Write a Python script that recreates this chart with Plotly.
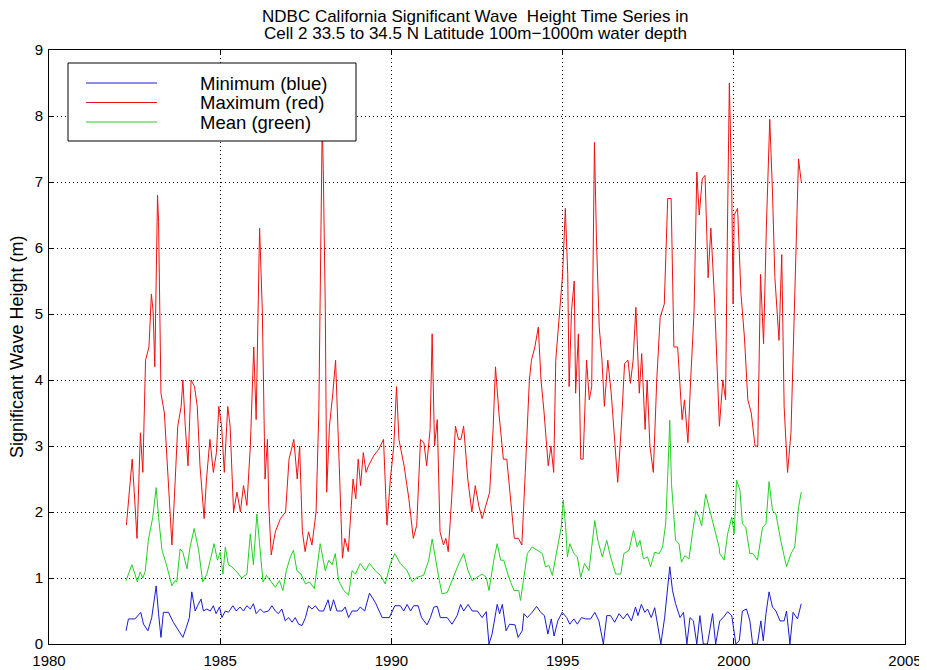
import plotly.graph_objects as go

# ---------------- data ----------------
max_year = [1982.26,1982.43,1982.49,1982.57,1982.67,1982.74,1982.82,1982.92,1982.99,1983.04,
            1983.09,1983.17,1983.20,1983.27,1983.37,1983.51,1983.59,1983.66,1983.76,1983.86,
            1983.91,1983.98,1984.06,1984.15,1984.25,1984.33,1984.41,1984.53,1984.60,1984.70,
            1984.80,1984.89,1984.96,1985.04,1985.12,1985.22,1985.29,1985.39,1985.49,1985.59,
            1985.68,1985.78,1985.88,1985.98,1986.05,1986.15,1986.23,1986.31,1986.38,
            1986.42,1986.49,1986.61,1986.76,1986.91,1987.01,1987.15,1987.25,1987.32,1987.40,
            1987.48,1987.58,1987.68,1987.80,1987.88,1987.93,1987.98,1988.01,1988.07,1988.11,
            1988.19,1988.29,1988.37,1988.44,1988.51,1988.57,1988.64,1988.74,1988.83,1988.88,
            1988.96,1989.03,1989.10,1989.18,1989.26,1989.33,1989.48,1989.63,1989.77,1989.87,
            1989.97,1990.07,1990.15,1990.22,1990.37,1990.51,1990.64,1990.74,
            1990.85,1990.95,1991.03,1991.13,1991.19,1991.26,1991.34,1991.42,1991.52,1991.59,
            1991.66,1991.76,1991.87,1991.96,1992.03,1992.11,1992.23,1992.35,1992.45,1992.55,
            1992.65,1992.75,1992.87,1992.97,1993.04,1993.14,1993.27,1993.37,1993.46,1993.59,
            1993.71,1993.81,1993.91,1994.03,1994.09,1994.19,1994.29,1994.37,1994.46,1994.58,
            1994.66,1994.74,1994.80,1994.90,1995.00,1995.08,1995.15,1995.19,1995.26,1995.34,
            1995.38,1995.46,1995.53,1995.60,1995.70,1995.78,1995.85,1995.93,1995.99,1996.07,
            1996.15,1996.22,1996.32,1996.42,1996.52,1996.61,1996.71,1996.81,1996.91,1996.98,
            1997.06,1997.14,1997.24,1997.31,1997.41,1997.47,1997.55,1997.65,1997.75,1997.85,
            1997.97,1998.07,1998.17,1998.25,1998.36,1998.49,1998.56,1998.66,1998.74,1998.84,
            1998.92,1998.99,1999.08,1999.16,1999.25,1999.33,1999.43,1999.51,1999.58,1999.68,
            1999.76,1999.81,1999.87,1999.94,1999.98,
            2000.01,2000.11,2000.21,2000.31,2000.41,2000.51,2000.62,2000.70,2000.78,2000.87,
            2000.95,2001.05,2001.13,2001.20,2001.32,2001.40,2001.47,2001.57,2001.67,2001.77,
            2001.89,2001.97]
max_height = [1.8,2.8,2.3,1.6,3.2,2.6,4.3,4.5,5.3,5.05,
              4.2,6.8,6.4,3.8,3.5,2.2,1.5,2.2,3.3,3.6,
              4.0,3.3,2.7,4.0,3.9,3.6,2.7,1.9,2.5,3.1,
              2.6,2.9,3.6,3.3,2.6,3.6,3.3,2.0,2.3,2.0,
              2.4,2.1,3.0,4.5,3.4,6.3,5.05,2.5,3.1,
              2.1,1.35,1.7,1.9,2.0,2.8,3.1,2.5,3.0,1.7,
              1.4,1.7,1.5,2.0,3.5,6.1,7.9,7.2,5.05,2.3,
              3.3,3.8,4.3,3.25,2.0,1.3,1.6,1.4,2.1,2.5,
              2.2,2.8,2.4,2.9,2.6,2.7,2.85,2.95,3.1,1.8,
              2.5,3.0,3.9,3.1,2.7,2.2,1.6,1.8,
              3.1,3.05,2.7,3.25,4.7,3.0,3.4,1.7,1.5,1.6,
              1.4,2.2,3.3,3.1,3.1,3.3,2.5,2.0,2.4,2.1,
              1.9,2.1,2.3,3.25,4.2,3.5,2.8,2.8,2.3,1.6,
              1.6,1.5,2.6,4.0,4.3,4.5,4.8,4.0,3.5,2.7,
              3.0,2.6,4.3,5.0,5.6,6.6,5.6,3.9,5.05,5.5,
              3.8,4.7,2.8,2.8,4.3,3.7,3.9,7.6,6.1,4.8,
              4.3,3.6,4.3,3.8,3.0,2.45,3.25,4.25,4.3,3.95,
              4.3,5.1,3.8,4.4,3.25,4.0,3.0,2.6,4.0,4.95,
              5.15,6.75,6.75,4.5,4.5,3.4,3.7,3.05,4.0,5.05,
              7.15,6.5,7.05,7.1,5.55,6.3,5.3,4.3,3.3,4.0,
              3.7,6.1,8.5,6.85,5.15,
              6.5,6.6,5.3,4.65,3.7,3.5,3.0,3.0,5.6,4.55,
              6.3,7.95,6.85,5.55,4.6,5.9,3.6,2.6,3.2,5.05,
              7.35,7.0]

mean_year = [1982.25,1982.42,1982.51,1982.58,1982.66,1982.74,1982.81,1982.90,1983.03,1983.13,
             1983.20,1983.30,1983.42,1983.52,1983.59,1983.68,1983.73,1983.83,1983.91,1984.03,
             1984.12,1984.24,1984.37,1984.49,1984.61,1984.71,1984.82,1984.92,1985.00,1985.08,
             1985.15,1985.24,1985.34,1985.49,1985.63,1985.78,1985.88,1985.97,1986.07,1986.15,
             1986.25,1986.35,1986.46,1986.61,1986.73,1986.83,1986.93,1987.05,1987.14,1987.24,
             1987.36,1987.49,1987.61,1987.75,
             1987.92,1988.07,1988.17,1988.27,1988.36,1988.46,1988.61,1988.75,1988.85,1988.95,
             1989.09,1989.24,1989.36,1989.53,1989.68,1989.82,1989.97,1990.10,1990.26,1990.46,
             1990.61,1990.75,1990.94,1991.09,1991.19,1991.29,1991.40,1991.48,1991.63,1991.77,
             1991.87,1991.97,1992.11,1992.24,1992.36,1992.51,1992.65,1992.77,1992.85,1992.99,
             1993.09,1993.19,1993.28,1993.43,1993.58,1993.72,1993.77,
             1993.87,1993.97,1994.11,1994.26,1994.41,1994.50,1994.60,1994.70,1994.80,1994.89,
             1994.96,1995.02,1995.09,1995.14,1995.21,1995.33,1995.43,1995.53,1995.64,1995.77,
             1995.87,1995.94,1996.03,1996.16,1996.29,1996.40,1996.55,1996.70,1996.79,1996.94,
             1997.07,1997.18,1997.26,1997.36,1997.48,1997.57,1997.69,1997.82,1997.92,1998.01,
             1998.08,1998.13,1998.18,1998.24,1998.30,1998.40,1998.47,1998.57,1998.69,1998.79,
             1998.89,1998.99,1999.06,1999.18,1999.28,1999.42,1999.57,
             1999.59,1999.72,1999.82,1999.94,2000.01,2000.08,2000.18,2000.25,2000.35,2000.47,
             2000.56,2000.69,2000.84,2000.94,2001.03,2001.13,2001.23,2001.37,2001.54,2001.67,
             2001.78,2001.89,2001.97]
mean_height = [0.96,1.2,1.06,0.94,1.09,1.0,1.1,1.57,1.92,2.37,
               1.92,1.42,1.22,1.0,0.88,0.96,0.94,1.44,1.39,1.14,
               1.47,1.75,1.42,0.94,1.06,1.27,1.52,1.27,1.39,1.06,
               1.47,1.2,1.17,1.09,1.0,1.06,1.67,1.2,1.97,1.52,
               0.94,1.04,0.96,0.86,0.96,0.81,1.11,1.32,1.42,1.11,
               1.06,0.91,0.94,0.84,
               1.52,1.11,1.27,1.2,1.37,0.96,0.81,0.74,1.11,1.06,
               1.22,1.11,1.22,1.11,1.04,0.91,1.22,1.37,1.22,1.11,
               0.94,1.01,1.04,1.27,1.59,1.27,0.96,0.76,0.78,0.96,
               1.09,1.22,1.37,1.11,0.96,1.01,1.06,1.01,0.81,1.27,
               1.52,1.27,1.27,1.01,0.81,0.81,0.66,
               1.01,1.37,1.47,1.42,1.37,1.17,1.19,1.04,1.32,1.52,
               1.77,2.18,1.77,1.32,1.52,1.37,1.32,1.01,1.22,1.11,
               1.52,1.87,1.57,1.32,1.57,1.32,1.06,1.06,1.37,1.42,
               1.72,1.47,1.57,1.29,1.32,1.17,1.39,1.37,1.47,1.82,
               2.68,3.39,2.43,1.92,1.57,1.52,1.24,1.34,1.29,1.67,
               2.02,1.92,1.79,2.27,2.07,1.77,1.47,
               1.37,1.27,1.67,1.92,1.67,2.48,2.33,1.82,1.77,1.37,
               1.37,1.27,1.77,1.82,2.46,2.02,1.97,1.57,1.17,1.37,
               1.47,2.07,2.3]

min_year = [1982.25,1982.32,1982.51,1982.61,1982.68,1982.76,1982.89,1983.00,1983.13,1983.20,
            1983.27,1983.34,1983.49,1983.63,1983.78,1983.91,1984.01,1984.10,1984.17,1984.27,
            1984.34,1984.44,1984.51,1984.61,1984.71,1984.80,1984.88,1984.98,1985.05,1985.15,
            1985.24,1985.37,1985.47,1985.58,1985.68,1985.78,1985.88,1985.97,1986.05,1986.17,
            1986.27,1986.41,1986.51,1986.61,1986.70,1986.80,1986.90,1987.00,1987.10,1987.19,
            1987.29,1987.39,1987.49,1987.58,1987.68,1987.78,
            1987.89,1988.02,1988.15,1988.22,1988.31,1988.41,1988.56,1988.65,1988.75,1988.85,
            1989.00,1989.09,1989.22,1989.36,1989.53,1989.73,1989.94,1990.10,1990.26,1990.36,
            1990.46,1990.56,1990.65,1990.78,1990.88,1991.04,1991.14,1991.24,1991.34,1991.43,
            1991.63,1991.77,1991.92,1992.02,1992.11,1992.24,1992.36,1992.51,1992.65,1992.77,
            1992.85,1992.94,1993.09,1993.16,1993.24,1993.35,1993.45,1993.61,1993.70,1993.82,
            1993.87,1993.97,1994.11,1994.24,1994.36,1994.47,1994.57,1994.67,1994.75,1994.86,
            1994.99,1995.12,1995.21,1995.33,1995.43,1995.55,1995.67,1995.82,1995.94,1996.06,
            1996.19,1996.29,1996.40,1996.52,1996.65,1996.77,1996.89,1997.01,1997.13,1997.20,
            1997.30,1997.40,1997.48,1997.59,1997.69,1997.77,1997.87,1997.98,1998.06,1998.13,
            1998.21,1998.30,1998.43,1998.53,1998.63,1998.72,1998.82,1998.92,1999.01,1999.11,
            1999.23,1999.38,1999.47,
            1999.59,1999.69,1999.82,1999.94,2000.06,2000.16,2000.25,2000.37,2000.47,2000.55,
            2000.69,2000.79,2000.86,2000.94,2001.03,2001.13,2001.23,2001.35,2001.47,2001.54,
            2001.64,2001.73,2001.86,2001.97]
min_height = [0.2,0.38,0.38,0.43,0.48,0.3,0.2,0.4,0.88,0.46,
              0.1,0.48,0.48,0.33,0.2,0.1,0.25,0.4,0.79,0.5,
              0.58,0.68,0.5,0.53,0.5,0.58,0.46,0.56,0.4,0.5,
              0.48,0.58,0.5,0.56,0.5,0.58,0.53,0.61,0.46,0.53,
              0.48,0.5,0.58,0.5,0.46,0.53,0.35,0.4,0.33,0.4,
              0.3,0.28,0.4,0.58,0.53,0.58,
              0.5,0.5,0.67,0.5,0.67,0.5,0.5,0.56,0.4,0.5,
              0.5,0.56,0.5,0.77,0.63,0.4,0.4,0.58,0.58,0.5,
              0.6,0.5,0.58,0.58,0.4,0.29,0.4,0.56,0.57,0.4,
              0.4,0.3,0.43,0.6,0.5,0.6,0.5,0.5,0.4,0.49,
              0.0,0.15,0.6,0.46,0.6,0.2,0.3,0.29,0.1,0.2,
              0.46,0.4,0.48,0.57,0.48,0.43,0.15,0.38,0.12,0.35,
              0.48,0.4,0.3,0.38,0.3,0.4,0.38,0.38,0.48,0.35,
              0.0,0.43,0.43,0.33,0.46,0.38,0.46,0.35,0.56,0.43,
              0.6,0.48,0.53,0.4,0.55,0.3,0.0,0.4,0.85,1.17,
              0.81,0.61,0.4,0.48,0.0,0.4,0.35,0.0,0.43,0.0,
              0.0,0.46,0.0,
              0.35,0.4,0.49,0.43,0.0,0.05,0.5,0.53,0.35,0.0,
              0.0,0.35,0.05,0.46,0.79,0.56,0.5,0.35,0.35,0.5,
              0.0,0.48,0.38,0.61]

x_ticks = [1980, 1985, 1990, 1995, 2000, 2005]
y_ticks = [0, 1, 2, 3, 4, 5, 6, 7, 8, 9]
legend_labels = ["Minimum (blue)", "Maximum (red)", "Mean (green)"]
title_lines = ["NDBC California Significant Wave\u00a0 Height Time Series in",
               "Cell 2 33.5 to 34.5 N Latitude 100m\u22121000m water depth"]
y_title = "Significant Wave Height (m)"

# ---------------- styling ----------------
# the page body adds an 8px offset, so the figure is 8px smaller and
# all placements below are given in window pixels
OFF = 8
W, H = 927 - OFF, 670 - OFF
SL, SR, ST, SB = 49, 905, 50, 644          # plot area in window pixels
L, T = SL - OFF, ST - OFF
R, B = W - (SR - OFF), H - (SB - OFF)
PW, PH = SR - SL, SB - ST
FONT = "Liberation Sans, Arial, Helvetica, sans-serif"
BLUE, RED, GREEN = "#1a1ad0", "#f01010", "#22d022"

def px(xs):
    return (xs - SL) / PW

def py(ys):
    return (SB - ys) / PH

fig = go.Figure()
fig.add_trace(go.Scatter(x=min_year, y=min_height, mode="lines",
                         line=dict(color=BLUE, width=1), name=legend_labels[0]))
fig.add_trace(go.Scatter(x=max_year, y=max_height, mode="lines",
                         line=dict(color=RED, width=1), name=legend_labels[1]))
fig.add_trace(go.Scatter(x=mean_year, y=mean_height, mode="lines",
                         line=dict(color=GREEN, width=1), name=legend_labels[2]))

axis_common = dict(showline=True, linecolor="black", linewidth=1, mirror="ticks",
                   ticks="inside", ticklen=5, tickcolor="black", automargin=False,
                   showgrid=True, gridcolor="black", griddash="1px,3px", gridwidth=1,
                   zeroline=False, tickfont=dict(family=FONT, size=15, color="black"))

fig.update_xaxes(range=[x_ticks[0], x_ticks[-1]], tickvals=x_ticks,
                 ticklabelstandoff=3, **axis_common)
fig.update_yaxes(range=[y_ticks[0], y_ticks[-1]], tickvals=y_ticks,
                 ticklabelstandoff=2, **axis_common)

shapes = []
annotations = []
# legend box (drawn above the data, opaque like the original)
shapes.append(dict(type="rect", xref="paper", yref="paper",
                   x0=px(68), x1=px(356), y0=py(141), y1=py(63),
                   line=dict(color="black", width=1), fillcolor="white", layer="above"))
for i, (lab, col) in enumerate(zip(legend_labels, [BLUE, RED, GREEN])):
    yy = 83 + 19.5 * i
    shapes.append(dict(type="line", xref="paper", yref="paper",
                       x0=px(86), x1=px(157), y0=py(yy), y1=py(yy),
                       line=dict(color=col, width=1), layer="above"))
    annotations.append(dict(text=lab, xref="paper", yref="paper", x=px(198), y=py(yy),
                            xanchor="left", yanchor="middle", showarrow=False,
                            font=dict(family=FONT, size=18.5, color="black")))

# two-line title
for i, line in enumerate(title_lines):
    annotations.append(dict(text=line, xref="paper", yref="paper", x=px(475), y=py(17 + 17 * i),
                            xanchor="center", yanchor="middle", showarrow=False,
                            font=dict(family=FONT, size=17, color="black")))
# y axis title
annotations.append(dict(text=y_title, xref="paper", yref="paper", x=px(17), y=py(347),
                        xanchor="center", yanchor="middle", textangle=-90, showarrow=False,
                        font=dict(family=FONT, size=18, color="black")))

fig.update_layout(
    width=W, height=H,
    margin=dict(l=L, r=R, t=T, b=B),
    paper_bgcolor="white", plot_bgcolor="white",
    showlegend=False,
    shapes=shapes, annotations=annotations,
)

fig.write_html("out.html")
